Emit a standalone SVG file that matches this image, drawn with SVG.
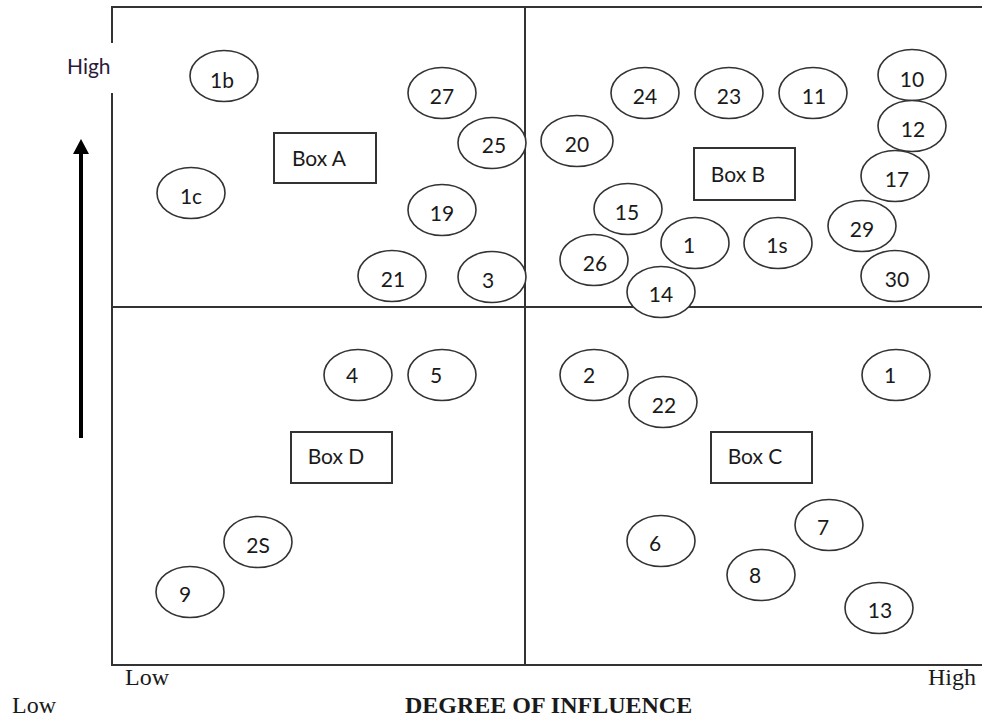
<svg xmlns="http://www.w3.org/2000/svg" width="982" height="718" viewBox="0 0 982 718">
<defs>
<style>
.frame{stroke:#333;stroke-width:2;fill:none}
.n ellipse{fill:#fff;stroke:#333;stroke-width:1.6}
.n rect{fill:#fff;stroke:#333;stroke-width:2}
.n text{font-family:Lato,"Open Sans",sans-serif;font-size:21px;fill:#1a1a1a;text-anchor:middle}
.ax{font-family:"Liberation Serif","Times New Roman",serif;font-size:24px;fill:#1a1a1a}
.hi{font-family:Lato,"Open Sans",sans-serif;font-size:21px;fill:#2a1a3a}
</style>
<marker id="ah" markerWidth="8" markerHeight="7" refX="0" refY="3.5" orient="auto" markerUnits="userSpaceOnUse" viewBox="0 0 8 7">
<path d="M0,0 L8,3.5 L0,7 Z" fill="#000"/>
</marker>
</defs>
<rect width="982" height="718" fill="#fff"/>
<g id="axes">
<path class="frame" d="M112,43 V7 H982"/>
<path class="frame" d="M112,93 V665 H982"/>
<path class="frame" d="M525,7 V665"/>
<path class="frame" d="M112,307 H982"/>
<text class="hi" x="67" y="74">High</text>
<text class="ax" x="125" y="685">Low</text>
<text class="ax" x="928" y="685">High</text>
<text class="ax" x="12" y="713">Low</text>
<text class="ax" x="405" y="713" font-weight="bold">DEGREE OF INFLUENCE</text>
</g>
<g id="connectors">
<path d="M81,438 V154" stroke="#000" stroke-width="4" fill="none"/>
<path d="M73,154 L81,139 L89,154 Z" fill="#000"/>
</g>
<g id="n-1b" class="n"><ellipse cx="224" cy="76" rx="34" ry="25.5"/><text x="222" y="88">1b</text></g>
<g id="n-1c" class="n"><ellipse cx="191" cy="193" rx="34" ry="25.5"/><text x="191" y="204">1c</text></g>
<g id="box-a" class="n"><rect x="274" y="133" width="102" height="50"/><text x="319" y="166">Box A</text></g>
<g id="n-27" class="n"><ellipse cx="442" cy="93" rx="34" ry="25.5"/><text x="442" y="104">27</text></g>
<g id="n-25" class="n"><ellipse cx="492" cy="143" rx="34" ry="25.5"/><text x="494" y="153">25</text></g>
<g id="n-19" class="n"><ellipse cx="442" cy="210" rx="34" ry="25.5"/><text x="442" y="221">19</text></g>
<g id="n-21" class="n"><ellipse cx="392" cy="276" rx="34" ry="25.5"/><text x="393" y="287">21</text></g>
<g id="n-3" class="n"><ellipse cx="492" cy="277" rx="34" ry="25.5"/><text x="488" y="288">3</text></g>
<g id="n-20" class="n"><ellipse cx="577" cy="141" rx="36" ry="25.5"/><text x="577" y="152">20</text></g>
<g id="n-24" class="n"><ellipse cx="645" cy="93" rx="34" ry="25.5"/><text x="645" y="104">24</text></g>
<g id="n-23" class="n"><ellipse cx="729" cy="93" rx="34" ry="25.5"/><text x="729" y="104">23</text></g>
<g id="n-11" class="n"><ellipse cx="813" cy="93" rx="34" ry="25.5"/><text x="814" y="104">11</text></g>
<g id="n-10" class="n"><ellipse cx="912" cy="75" rx="34" ry="25.5"/><text x="912" y="87">10</text></g>
<g id="n-12" class="n"><ellipse cx="912" cy="126" rx="34" ry="25.5"/><text x="913" y="137">12</text></g>
<g id="n-17" class="n"><ellipse cx="895" cy="176" rx="34" ry="25.5"/><text x="897" y="187">17</text></g>
<g id="n-29" class="n"><ellipse cx="862" cy="226" rx="34" ry="25.5"/><text x="862" y="237">29</text></g>
<g id="n-30" class="n"><ellipse cx="895" cy="276" rx="34" ry="25.5"/><text x="897" y="287">30</text></g>
<g id="box-b" class="n"><rect x="694" y="148" width="101" height="52"/><text x="738" y="182">Box B</text></g>
<g id="n-15" class="n"><ellipse cx="628" cy="209" rx="34" ry="25.5"/><text x="627" y="220">15</text></g>
<g id="n-26" class="n"><ellipse cx="594" cy="260" rx="34" ry="25.5"/><text x="595" y="271">26</text></g>
<g id="n-1-b" class="n"><ellipse cx="695" cy="243" rx="34" ry="25.5"/><text x="689" y="253">1</text></g>
<g id="n-1s" class="n"><ellipse cx="778" cy="243" rx="34" ry="25.5"/><text x="777" y="253">1s</text></g>
<g id="n-14" class="n"><ellipse cx="661" cy="292" rx="34" ry="25.5"/><text x="661" y="302">14</text></g>
<g id="n-4" class="n"><ellipse cx="358" cy="375" rx="34" ry="25.5"/><text x="352" y="383">4</text></g>
<g id="n-5" class="n"><ellipse cx="442" cy="375" rx="34" ry="25.5"/><text x="436" y="383">5</text></g>
<g id="box-d" class="n"><rect x="291" y="432" width="101" height="51"/><text x="336" y="464">Box D</text></g>
<g id="n-2s" class="n"><ellipse cx="258" cy="542" rx="34" ry="25.5"/><text x="258" y="553">2S</text></g>
<g id="n-9" class="n"><ellipse cx="190" cy="592" rx="34" ry="25.5"/><text x="185" y="602">9</text></g>
<g id="n-2" class="n"><ellipse cx="594" cy="375" rx="34" ry="25.5"/><text x="589" y="383">2</text></g>
<g id="n-22" class="n"><ellipse cx="663" cy="402" rx="34" ry="25.5"/><text x="664" y="413">22</text></g>
<g id="n-1-c" class="n"><ellipse cx="896" cy="375" rx="34" ry="25.5"/><text x="890" y="383">1</text></g>
<g id="box-c" class="n"><rect x="711" y="432" width="101" height="51"/><text x="755" y="464">Box C</text></g>
<g id="n-7" class="n"><ellipse cx="829" cy="525" rx="34" ry="25.5"/><text x="823" y="535">7</text></g>
<g id="n-6" class="n"><ellipse cx="661" cy="541" rx="34" ry="25.5"/><text x="655" y="551">6</text></g>
<g id="n-8" class="n"><ellipse cx="761" cy="575" rx="34" ry="25.5"/><text x="755" y="583">8</text></g>
<g id="n-13" class="n"><ellipse cx="879" cy="608" rx="34" ry="25.5"/><text x="880" y="618">13</text></g>
</svg>
